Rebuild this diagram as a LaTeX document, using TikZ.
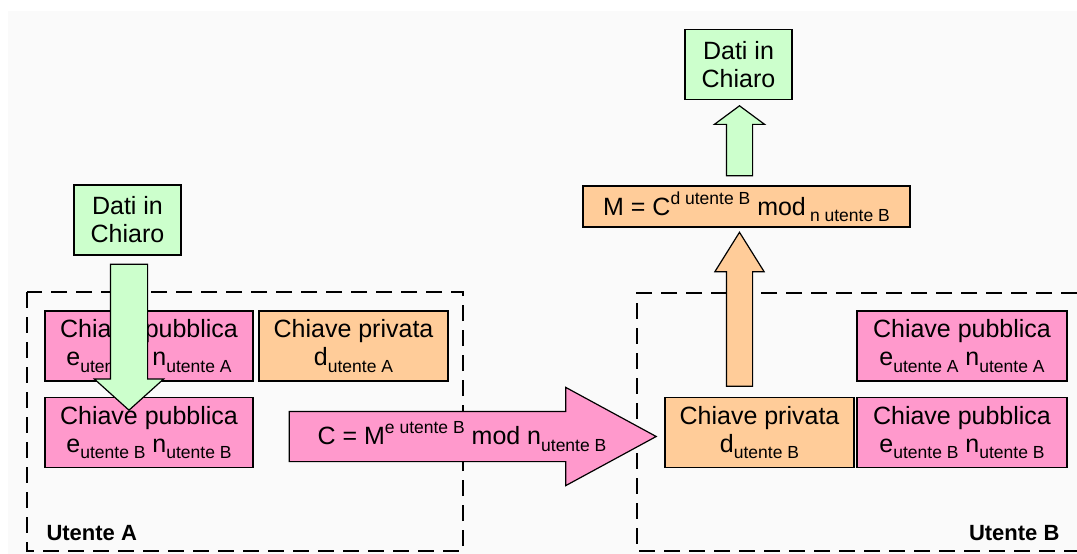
\documentclass[tikz,border=0pt]{standalone}
\usepackage{fontspec}
\setmainfont{Liberation Sans}
\usepackage{xcolor}
\usepackage{tikz}
\usetikzlibrary{shapes.arrows,positioning,calc}

\definecolor{verde}{HTML}{CCFFCC}
\definecolor{rosa}{HTML}{FF99CC}
\definecolor{arancio}{HTML}{FFCC99}
\definecolor{sfondo}{HTML}{FAFAFA}

\newcommand{\pedice}[1]{\raisebox{-0.25em}{\fontsize{17.5}{18}\selectfont #1}}
\newcommand{\apice}[1]{\raisebox{0.45em}{\fontsize{17.5}{18}\selectfont #1}}

\tikzset{
  box/.style={draw=black, line width=1.2pt, align=center, inner sep=0pt,
    font=\fontsize{25}{28}\selectfont},
  pubkey/.style={box, fill=rosa, minimum width=208pt, minimum height=70pt},
  privkey/.style={box, fill=arancio, minimum width=189pt, minimum height=70pt},
  dati/.style={box, fill=verde, minimum width=107pt, minimum height=70pt},
  freccia/.style={single arrow, draw=black, line width=1.2pt, inner xsep=0pt},
  utente/.style={dash pattern=on 16pt off 9pt, line width=2pt},
  etichetta/.style={font=\fontsize{22}{24}\selectfont\bfseries}
}

\begin{document}
\begin{tikzpicture}[x=1pt, y=-1pt]
        \useasboundingbox (0,0) rectangle (1077,554);
        \fill[sfondo] (8,11) rectangle (1077,554);

        % Utenti
        \draw[utente] (27,292) rectangle (463,551);
        \draw[utente] (1077,293) -- (637,293) -- (637,551) -- (1077,551);
        \node[etichetta, anchor=base west] (utA) at (43,540) {Utente A};
        \node[etichetta, anchor=base east] (utB) at (1063,540) {Utente B};

        % Chiavi utente A
        \node[pubkey] (pubAA) at (149,346) {Chiave pubblica\\e\pedice{utente A} n\pedice{utente A}};
        \node[privkey] (privA) at (353.5,346) {Chiave privata\\d\pedice{utente A}};
        \node[pubkey] (pubAB) at (149,432.5) {Chiave pubblica\\e\pedice{utente B} n\pedice{utente B}};

        % Chiavi utente B
        \node[pubkey, minimum width=210pt] (pubBA) at (962,346) {Chiave pubblica\\e\pedice{utente A} n\pedice{utente A}};
        \node[privkey] (privB) at (759.5,432.5) {Chiave privata\\d\pedice{utente B}};
        \node[pubkey, minimum width=210pt] (pubBB) at (962,432.5) {Chiave pubblica\\e\pedice{utente B} n\pedice{utente B}};

        % Dati e decifratura
        \node[dati] (datiA) at (127.5,220) {Dati in\\Chiaro};
        \node[box, fill=arancio, minimum width=327pt, minimum height=41pt] (decM) at (746.5,206.5)
            {M = C\apice{d utente B} mod\,\pedice{n utente B}};
        \node[dati] (datiB) at (738.5,64.5) {Dati in\\Chiaro};

        % Frecce
        \node[freccia, fill=verde, rotate=-90, anchor=tail, minimum height=146pt, inner ysep=18pt,
            single arrow head extend=16pt, single arrow tip angle=96] (frecciaA) at ($(datiA.south)+(1.5,8)$) {};
        \node[freccia, fill=rosa, anchor=tail, minimum height=367pt, inner ysep=24.5pt,
            single arrow head extend=24pt, single arrow tip angle=57] (frecciaC) at ($(pubAB.east)+(35,4)$) {};
        \node[box, draw=none] (testoC) at ($(frecciaC.tail)!0.47!(frecciaC.tip)$)
            {C = M\apice{e utente B} mod n\pedice{utente B}};
        \node[freccia, fill=arancio, rotate=90, anchor=tail, minimum height=154pt, inner ysep=12.5pt,
            single arrow head extend=11.5pt, single arrow tip angle=64] (frecciaD) at ($(privB.north)+(-20,-10)$) {};
        \node[freccia, fill=verde, rotate=90, anchor=tail, minimum height=70pt, inner ysep=12.5pt,
            single arrow head extend=12pt, single arrow tip angle=107] (frecciaM) at ($(decM.north)+(-7,-9)$) {};
    \end{tikzpicture}
\end{document}
